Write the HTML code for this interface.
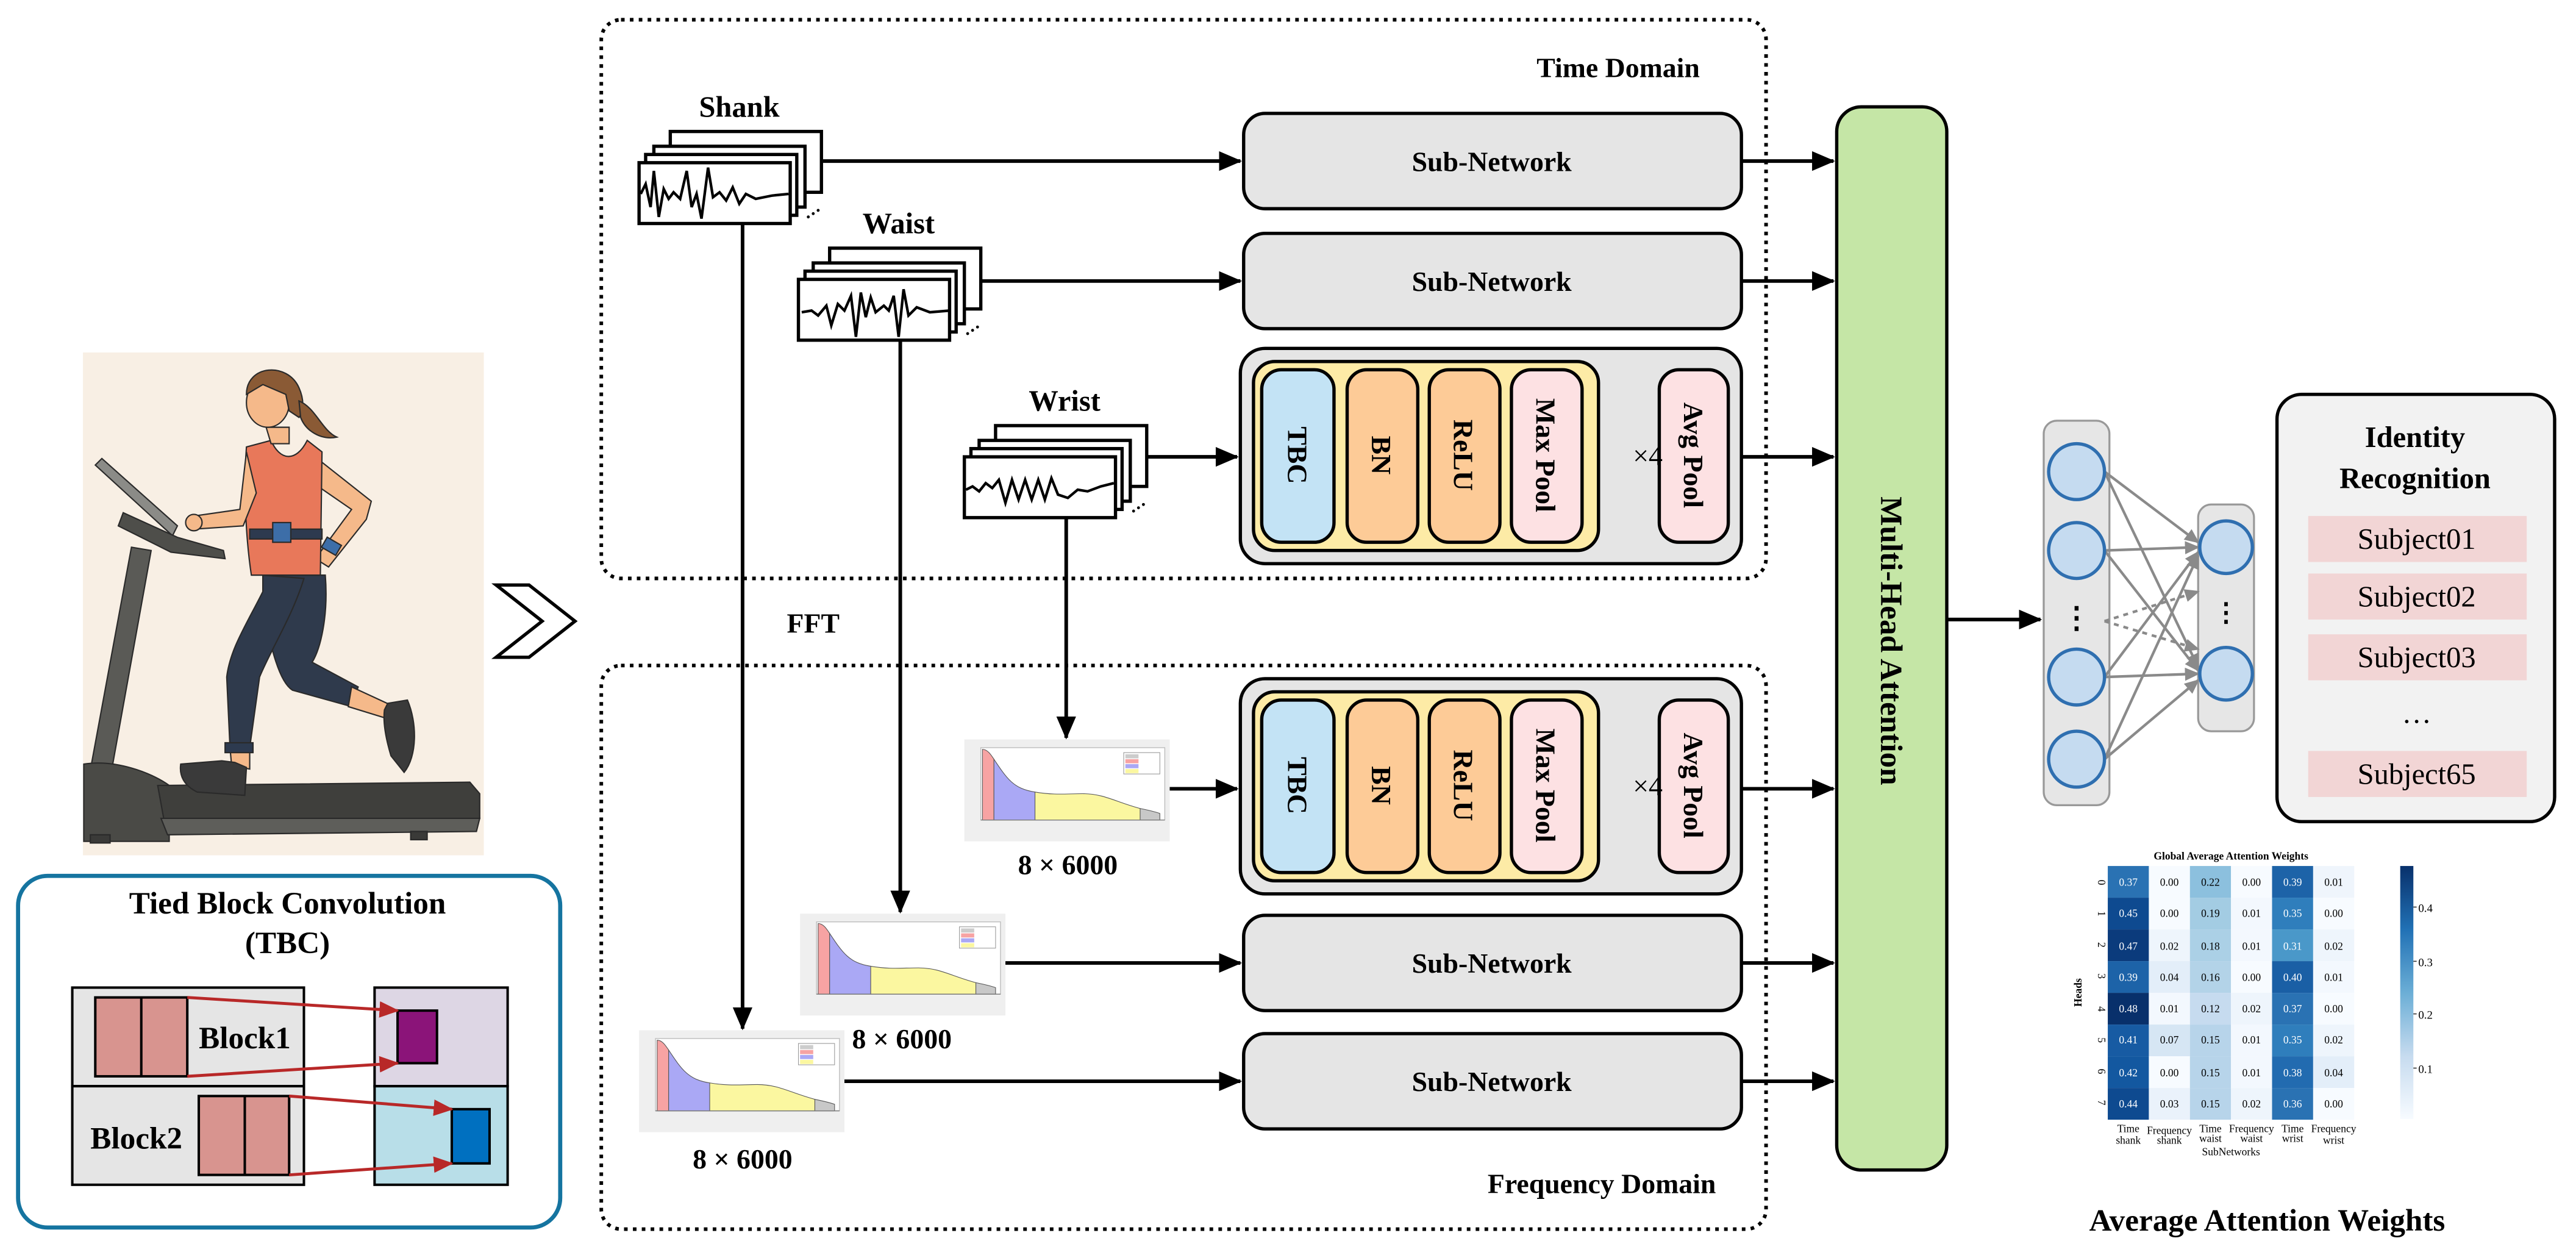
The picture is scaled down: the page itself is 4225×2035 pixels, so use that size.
<!DOCTYPE html>
<html><head><meta charset="utf-8"><style>
html,body{margin:0;padding:0;background:#fff;}
svg{display:block;}
text{font-family:"Liberation Serif",serif;}
.b{font-weight:bold;}
</style></head><body>
<svg width="4225" height="2035" viewBox="0 0 1568 755.2" xmlns="http://www.w3.org/2000/svg">
<defs>
<marker id="ah" markerUnits="userSpaceOnUse" markerWidth="14" markerHeight="12" refX="13" refY="6" orient="auto"><path d="M0,0 L14,6 L0,12 z" fill="#000"/></marker>
<marker id="ar" markerUnits="userSpaceOnUse" markerWidth="12" markerHeight="10" refX="11" refY="5" orient="auto"><path d="M0,0 L12,5 L0,10 z" fill="#b82828"/></marker>
<marker id="ag" markerUnits="userSpaceOnUse" markerWidth="9" markerHeight="8" refX="8" refY="4" orient="auto"><path d="M0,0 L9,4 L0,8 z" fill="#8a8a8a"/></marker>
<linearGradient id="cb" x1="0" y1="1" x2="0" y2="0"><stop offset="0" stop-color="#f7fbff"/><stop offset="0.25" stop-color="#c6dbef"/><stop offset="0.5" stop-color="#6baed6"/><stop offset="0.75" stop-color="#2171b5"/><stop offset="1" stop-color="#08306b"/></linearGradient>
<g id="spec">
 <rect x="0" y="0" width="125" height="62" fill="#efefef"/>
 <rect x="10" y="5" width="112" height="44" fill="#fff" stroke="#bbb" stroke-width="0.5"/>
 <path d="M11,49 L11,6 C14,6 16,9 18,12 L18,49 z" fill="#f7a3a3" stroke="#555" stroke-width="0.4"/>
 <path d="M18,49 L18,12 C26,24 30,30 43,32 L43,49 z" fill="#aaa8f5" stroke="#555" stroke-width="0.4"/>
 <path d="M43,49 L43,32 C55,34 62,33 72,33 C85,33 92,38 107,42 L107,49 z" fill="#fbf7a0" stroke="#555" stroke-width="0.4"/>
 <path d="M107,49 L107,42 C112,43 116,44 119,45 L119,49 z" fill="#c8c8c8" stroke="#555" stroke-width="0.4"/>
 <rect x="97" y="8" width="22" height="13" fill="#fff" stroke="#999" stroke-width="0.4"/>
 <rect x="98" y="9" width="8" height="2.5" fill="#ccc"/><rect x="98" y="12" width="8" height="2.5" fill="#f7a3a3"/><rect x="98" y="15" width="8" height="2.5" fill="#aaa8f5"/><rect x="98" y="18" width="8" height="2.5" fill="#fbf7a0"/>
 <path d="M10,49 L122,49" stroke="#777" stroke-width="0.5"/>
</g>
<g id="stk">
 <rect x="19" y="-19" width="92" height="37" fill="#fff" stroke="#000" stroke-width="2"/>
 <rect x="9" y="-10" width="92" height="37" fill="#fff" stroke="#000" stroke-width="2"/>
 <rect x="4" y="-5" width="92" height="37" fill="#fff" stroke="#000" stroke-width="2"/>
 <rect x="0" y="0" width="92" height="37" fill="#fff" stroke="#000" stroke-width="2"/>
 <circle cx="103" cy="33" r="0.9"/><circle cx="106" cy="31" r="0.9"/><circle cx="109" cy="29" r="0.9"/>
</g>
</defs>

<!-- runner illustration -->
<rect x="50.5" y="214.5" width="244" height="306" fill="#f8efe4"/>
<g stroke="#2a2a2a" stroke-width="0.8">
 <path d="M58,283 L62,279 L108,320 L105,326 Z" fill="#8b8b87"/>
 <path d="M75,312 L108,327 L136,335 L137,340 L104,336 L72,320 Z" fill="#4e4e4a"/>
 <path d="M80,333 L92,335 L67,474 L54,474 Z" fill="#5a5a56"/>
 <path d="M51,465 C70,462 92,470 103,478 L103,512 L51,512 Z" fill="#4a4a46"/>
 <path d="M96,478 L286,476 L292,483 L292,498 L100,500 Z" fill="#3f3f3c"/>
 <path d="M98,498 L292,498 L290,506 L102,508 Z" fill="#5e5e5a"/>
 <rect x="55" y="508" width="12" height="5" fill="#3a3a38"/><rect x="250" y="506" width="10" height="5" fill="#3a3a38"/>
 <path d="M160,350 L198,350 C200,375 195,395 190,403 L218,418 L214,430 L178,420 C170,415 165,395 160,370 Z" fill="#2f3a4c"/>
 <path d="M214,418 L240,430 L238,438 L212,430 Z" fill="#f5b98a"/>
 <path d="M236,428 L248,426 C254,440 254,460 246,470 L238,460 C235,450 233,440 234,432 Z" fill="#3a3a3a"/>
 <path d="M160,350 L185,352 C178,375 165,395 158,412 L152,455 L140,455 L138,412 C140,395 150,380 160,360 Z" fill="#2f3a4c"/>
 <path d="M140,455 L152,455 L152,468 L141,466 Z" fill="#f5b98a"/>
 <rect x="137" y="452" width="17" height="6" fill="#2d3a4f"/>
 <path d="M110,465 L135,463 L143,464 L150,467 L149,484 L120,482 C112,478 109,472 110,465 Z" fill="#3a3a3a"/>
 <path d="M188,275 L226,305 L223,316 L200,345 L192,340 L214,310 L185,290 Z" fill="#f5b98a"/>
 <rect x="197" y="329" width="10" height="7" fill="#3d6ea8" transform="rotate(30 202 332)"/>
 <path d="M150,272 L165,268 C170,280 180,282 187,268 L196,275 L195,350 L153,350 C150,330 148,300 150,272 Z" fill="#e8785a"/>
 <rect x="152" y="322" width="44" height="6" fill="#2d3a4f"/>
 <rect x="166" y="318" width="11" height="12" fill="#3d6ea8"/>
 <path d="M150,275 L146,310 L118,314 L118,322 L148,320 L156,300 Z" fill="#f5b98a"/>
 <circle cx="118" cy="318" r="5" fill="#f5b98a"/>
 <path d="M162,260 L176,260 L176,270 L165,270 Z" fill="#f5b98a"/>
 <ellipse cx="163" cy="245" rx="13" ry="15" fill="#f5b98a"/>
 <path d="M150,240 C150,222 175,220 182,236 C186,245 184,252 182,254 L176,250 L174,240 L160,234 Z" fill="#8a5a35"/>
 <path d="M182,244 C192,248 196,262 205,266 C195,268 186,262 183,254 Z" fill="#8a5a35"/>
</g>

<!-- TBC box -->
<rect x="11" y="533" width="330" height="214" rx="18" fill="#fff" stroke="#1574a0" stroke-width="2.5"/>
<text x="175" y="556" text-anchor="middle" class="b" font-size="19">Tied Block Convolution</text>
<text x="175" y="580" text-anchor="middle" class="b" font-size="19">(TBC)</text>
<rect x="44" y="601" width="141" height="60" fill="#e5e5e5" stroke="#000" stroke-width="1.5"/>
<rect x="44" y="661" width="141" height="60" fill="#e5e5e5" stroke="#000" stroke-width="1.5"/>
<rect x="228" y="601" width="81" height="60" fill="#ddd6e4" stroke="#000" stroke-width="1.5"/>
<rect x="228" y="661" width="81" height="60" fill="#b8dee8" stroke="#000" stroke-width="1.5"/>
<rect x="58" y="607" width="56" height="48" fill="#d8948f" stroke="#000" stroke-width="1.5"/><line x1="86" y1="607" x2="86" y2="655" stroke="#000" stroke-width="1.5"/>
<rect x="121" y="667" width="55" height="48" fill="#d8948f" stroke="#000" stroke-width="1.5"/><line x1="149" y1="667" x2="149" y2="715" stroke="#000" stroke-width="1.5"/>
<rect x="242" y="615" width="24" height="32" fill="#8b1479" stroke="#000" stroke-width="1.5"/>
<rect x="275" y="675" width="23" height="33" fill="#0070c0" stroke="#000" stroke-width="1.5"/>
<text x="149" y="638" text-anchor="middle" class="b" font-size="19">Block1</text>
<text x="83" y="699" text-anchor="middle" class="b" font-size="19">Block2</text>
<g stroke="#b82828" stroke-width="1.8" marker-end="url(#ar)">
<line x1="114" y1="607" x2="242" y2="615"/><line x1="114" y1="655" x2="242" y2="647"/>
<line x1="176" y1="667" x2="275" y2="675"/><line x1="176" y1="715" x2="275" y2="708"/>
</g>

<path d="M302,356 L322,356 L350,378 L322,400 L302,400 L330,378 Z" fill="#fff" stroke="#000" stroke-width="2"/>

<rect x="366" y="12" width="709" height="340" rx="12" fill="none" stroke="#000" stroke-width="2.2" stroke-dasharray="2.2 3.2"/>
<rect x="366" y="405" width="709" height="343" rx="12" fill="none" stroke="#000" stroke-width="2.2" stroke-dasharray="2.2 3.2"/>
<text x="985" y="47" text-anchor="middle" class="b" font-size="17">Time Domain</text>
<text x="495" y="385" text-anchor="middle" class="b" font-size="17">FFT</text>
<text x="975" y="726" text-anchor="middle" class="b" font-size="17">Frequency Domain</text>

<g stroke="#000" stroke-width="2.2" marker-end="url(#ah)" fill="none">
<line x1="452" y1="136" x2="452" y2="626"/>
<line x1="548" y1="207" x2="548" y2="555"/>
<line x1="649" y1="315" x2="649" y2="449"/>
</g>

<text x="450" y="71" text-anchor="middle" class="b" font-size="18">Shank</text>
<use href="#stk" x="389" y="99"/>
<path d="M390,118 L393,112 L396,126 L398,104 L401,132 L404,115 L407,121 L410,117 L414,121 L418,104 L421,126 L424,118 L427,133 L431,102 L434,120 L438,117 L442,122 L446,114 L450,124 L454,118 L460,121 L470,119 L480,118" fill="none" stroke="#000" stroke-width="1.6"/>
<text x="547" y="142" text-anchor="middle" class="b" font-size="18">Waist</text>
<use href="#stk" x="486" y="170"/>
<path d="M488,190 L494,189 L498,192 L503,186 L506,198 L510,185 L514,189 L518,180 L521,205 L524,178 L527,193 L530,181 L533,190 L538,186 L541,189 L544,180 L547,205 L550,176 L553,192 L558,187 L566,190 L578,189" fill="none" stroke="#000" stroke-width="1.6"/>
<text x="648" y="250" text-anchor="middle" class="b" font-size="18">Wrist</text>
<use href="#stk" x="587" y="278"/>
<path d="M588,298 L592,296 L596,299 L600,294 L604,297 L608,292 L612,306 L616,292 L620,304 L624,292 L628,304 L632,292 L636,304 L640,291 L644,301 L650,303 L656,298 L662,299 L670,296 L678,294" fill="none" stroke="#000" stroke-width="1.6"/>

<use href="#spec" x="587" y="450"/>
<use href="#spec" x="487" y="556"/>
<use href="#spec" x="389" y="627"/>
<text x="650" y="532" text-anchor="middle" class="b" font-size="17">8 × 6000</text>
<text x="549" y="638" text-anchor="middle" class="b" font-size="17">8 × 6000</text>
<text x="452" y="711" text-anchor="middle" class="b" font-size="17">8 × 6000</text>

<g stroke="#000" stroke-width="2.2" marker-end="url(#ah)">
<line x1="501" y1="98" x2="755" y2="98"/>
<line x1="597" y1="171" x2="755" y2="171"/>
<line x1="698" y1="278" x2="753" y2="278"/>
<line x1="712" y1="480" x2="753" y2="480"/>
<line x1="612" y1="586" x2="755" y2="586"/>
<line x1="514" y1="658" x2="755" y2="658"/>
<line x1="1060" y1="98" x2="1116" y2="98"/>
<line x1="1060" y1="171" x2="1116" y2="171"/>
<line x1="1060" y1="278" x2="1116" y2="278"/>
<line x1="1060" y1="480" x2="1116" y2="480"/>
<line x1="1060" y1="586" x2="1116" y2="586"/>
<line x1="1060" y1="658" x2="1116" y2="658"/>
<line x1="1185" y1="377" x2="1242" y2="377"/>
</g>

<g fill="#e5e5e5" stroke="#000" stroke-width="2">
<rect x="757" y="69" width="303" height="58" rx="13"/>
<rect x="757" y="142" width="303" height="58" rx="13"/>
<rect x="757" y="557" width="303" height="58" rx="13"/>
<rect x="757" y="629" width="303" height="58" rx="13"/>
</g>
<g font-size="17" text-anchor="middle">
<text x="908" y="104" class="b">Sub-Network</text>
<text x="908" y="177" class="b">Sub-Network</text>
<text x="908" y="592" class="b">Sub-Network</text>
<text x="908" y="664" class="b">Sub-Network</text>
</g>

<g>
<rect x="755" y="212" width="305" height="131" rx="15" fill="#e5e5e5" stroke="#000" stroke-width="2"/>
<rect x="763" y="220" width="210" height="115" rx="13" fill="#fdeba6" stroke="#000" stroke-width="2"/>
<rect x="768" y="225" width="44" height="105" rx="12" fill="#c3e3f5" stroke="#000" stroke-width="2"/>
<rect x="820" y="225" width="43" height="105" rx="12" fill="#fdcb97" stroke="#000" stroke-width="2"/>
<rect x="870" y="225" width="43" height="105" rx="12" fill="#fdcb97" stroke="#000" stroke-width="2"/>
<rect x="920" y="225" width="43" height="105" rx="12" fill="#fde1e3" stroke="#000" stroke-width="2"/>
<rect x="1010" y="225" width="42" height="105" rx="12" fill="#fde1e3" stroke="#000" stroke-width="2"/>
<text x="1003" y="283" text-anchor="middle" font-size="17">×4</text>
<text transform="translate(784 277) rotate(90)" text-anchor="middle" class="b" font-size="17">TBC</text>
<text transform="translate(835 277) rotate(90)" text-anchor="middle" class="b" font-size="17">BN</text>
<text transform="translate(885 277) rotate(90)" text-anchor="middle" class="b" font-size="17">ReLU</text>
<text transform="translate(935 277) rotate(90)" text-anchor="middle" class="b" font-size="17">Max Pool</text>
<text transform="translate(1025 277) rotate(90)" text-anchor="middle" class="b" font-size="17">Avg Pool</text>
</g>
<g transform="translate(0 201)">
<rect x="755" y="212" width="305" height="131" rx="15" fill="#e5e5e5" stroke="#000" stroke-width="2"/>
<rect x="763" y="220" width="210" height="115" rx="13" fill="#fdeba6" stroke="#000" stroke-width="2"/>
<rect x="768" y="225" width="44" height="105" rx="12" fill="#c3e3f5" stroke="#000" stroke-width="2"/>
<rect x="820" y="225" width="43" height="105" rx="12" fill="#fdcb97" stroke="#000" stroke-width="2"/>
<rect x="870" y="225" width="43" height="105" rx="12" fill="#fdcb97" stroke="#000" stroke-width="2"/>
<rect x="920" y="225" width="43" height="105" rx="12" fill="#fde1e3" stroke="#000" stroke-width="2"/>
<rect x="1010" y="225" width="42" height="105" rx="12" fill="#fde1e3" stroke="#000" stroke-width="2"/>
<text x="1003" y="283" text-anchor="middle" font-size="17">×4</text>
<text transform="translate(784 277) rotate(90)" text-anchor="middle" class="b" font-size="17">TBC</text>
<text transform="translate(835 277) rotate(90)" text-anchor="middle" class="b" font-size="17">BN</text>
<text transform="translate(885 277) rotate(90)" text-anchor="middle" class="b" font-size="17">ReLU</text>
<text transform="translate(935 277) rotate(90)" text-anchor="middle" class="b" font-size="17">Max Pool</text>
<text transform="translate(1025 277) rotate(90)" text-anchor="middle" class="b" font-size="17">Avg Pool</text>
</g>

<rect x="1118" y="65" width="67" height="647" rx="15" fill="#c5e6a6" stroke="#000" stroke-width="2"/>
<text transform="translate(1145 390) rotate(90)" text-anchor="middle" class="b" font-size="19">Multi-Head Attention</text>

<rect x="1244" y="256" width="40" height="234" rx="8" fill="#e6e6e6" stroke="#999" stroke-width="1.2"/>
<rect x="1338" y="307" width="34" height="138" rx="8" fill="#e6e6e6" stroke="#999" stroke-width="1.2"/>
<g stroke="#8a8a8a" stroke-width="1.6" marker-end="url(#ag)">
<line x1="1281" y1="287" x2="1338" y2="330"/><line x1="1281" y1="287" x2="1338" y2="406"/>
<line x1="1281" y1="335" x2="1338" y2="333"/><line x1="1281" y1="335" x2="1338" y2="408"/>
<line x1="1281" y1="412" x2="1338" y2="336"/><line x1="1281" y1="412" x2="1338" y2="410"/>
<line x1="1281" y1="462" x2="1338" y2="338"/><line x1="1281" y1="462" x2="1338" y2="414"/>
<line x1="1281" y1="378" x2="1338" y2="360" stroke-dasharray="3 3"/><line x1="1281" y1="378" x2="1338" y2="395" stroke-dasharray="3 3"/>
</g>
<g fill="#c5dbf0" stroke="#2f6fb0" stroke-width="2">
<circle cx="1264" cy="287" r="17"/><circle cx="1264" cy="335" r="17"/><circle cx="1264" cy="412" r="17"/><circle cx="1264" cy="462" r="17"/>
<circle cx="1355" cy="333" r="16"/><circle cx="1355" cy="410" r="16"/>
</g>
<text x="1264" y="382" text-anchor="middle" class="b" font-size="18">⋮</text>
<text x="1355" y="378" text-anchor="middle" class="b" font-size="16">⋮</text>

<rect x="1386" y="240" width="169" height="260" rx="15" fill="#f2f2f2" stroke="#000" stroke-width="2"/>
<text x="1470" y="272" text-anchor="middle" class="b" font-size="18">Identity</text>
<text x="1470" y="297" text-anchor="middle" class="b" font-size="18">Recognition</text>
<g fill="#f2d5d5">
<rect x="1405" y="314" width="133" height="28"/><rect x="1405" y="349" width="133" height="28"/><rect x="1405" y="386" width="133" height="28"/><rect x="1405" y="457" width="133" height="28"/>
</g>
<g font-size="18" text-anchor="middle">
<text x="1471" y="334">Subject01</text><text x="1471" y="369">Subject02</text><text x="1471" y="406">Subject03</text>
<text x="1471" y="440">…</text><text x="1471" y="477">Subject65</text>
</g>

<text x="1358" y="523" text-anchor="middle" font-size="6.5" class="b">Global Average Attention Weights</text>
<g font-size="6.5" text-anchor="middle">
<rect x="1283" y="527" width="25" height="19.3" fill="#2a72b3"/><rect x="1308" y="527" width="25" height="19.3" fill="#f7fbff"/><rect x="1333" y="527" width="25" height="19.3" fill="#8cc0de"/><rect x="1358" y="527" width="25" height="19.3" fill="#f7fbff"/><rect x="1383" y="527" width="25" height="19.3" fill="#1d63a8"/><rect x="1408" y="527" width="25" height="19.3" fill="#eff5fc"/>
<rect x="1283" y="546.3" width="25" height="19.3" fill="#0e4a90"/><rect x="1308" y="546.3" width="25" height="19.3" fill="#f7fbff"/><rect x="1333" y="546.3" width="25" height="19.3" fill="#a3cce3"/><rect x="1358" y="546.3" width="25" height="19.3" fill="#f3f8fe"/><rect x="1383" y="546.3" width="25" height="19.3" fill="#2f7ebc"/><rect x="1408" y="546.3" width="25" height="19.3" fill="#f7fbff"/>
<rect x="1283" y="565.6" width="25" height="19.3" fill="#0b3b7c"/><rect x="1308" y="565.6" width="25" height="19.3" fill="#eef5fc"/><rect x="1333" y="565.6" width="25" height="19.3" fill="#abd0e6"/><rect x="1358" y="565.6" width="25" height="19.3" fill="#f3f8fe"/><rect x="1383" y="565.6" width="25" height="19.3" fill="#4a98c9"/><rect x="1408" y="565.6" width="25" height="19.3" fill="#eef5fc"/>
<rect x="1283" y="584.9" width="25" height="19.3" fill="#1d63a8"/><rect x="1308" y="584.9" width="25" height="19.3" fill="#e3eef9"/><rect x="1333" y="584.9" width="25" height="19.3" fill="#b3d3e8"/><rect x="1358" y="584.9" width="25" height="19.3" fill="#f7fbff"/><rect x="1383" y="584.9" width="25" height="19.3" fill="#1a5fa5"/><rect x="1408" y="584.9" width="25" height="19.3" fill="#f3f8fe"/>
<rect x="1283" y="604.2" width="25" height="19.3" fill="#08306b"/><rect x="1308" y="604.2" width="25" height="19.3" fill="#f3f8fe"/><rect x="1333" y="604.2" width="25" height="19.3" fill="#c6dbef"/><rect x="1358" y="604.2" width="25" height="19.3" fill="#eef5fc"/><rect x="1383" y="604.2" width="25" height="19.3" fill="#2a72b3"/><rect x="1408" y="604.2" width="25" height="19.3" fill="#f7fbff"/>
<rect x="1283" y="623.5" width="25" height="19.3" fill="#175ba3"/><rect x="1308" y="623.5" width="25" height="19.3" fill="#d6e6f4"/><rect x="1333" y="623.5" width="25" height="19.3" fill="#b7d4ea"/><rect x="1358" y="623.5" width="25" height="19.3" fill="#f3f8fe"/><rect x="1383" y="623.5" width="25" height="19.3" fill="#2f7ebc"/><rect x="1408" y="623.5" width="25" height="19.3" fill="#eef5fc"/>
<rect x="1283" y="642.8" width="25" height="19.3" fill="#1358a0"/><rect x="1308" y="642.8" width="25" height="19.3" fill="#f7fbff"/><rect x="1333" y="642.8" width="25" height="19.3" fill="#b7d4ea"/><rect x="1358" y="642.8" width="25" height="19.3" fill="#f3f8fe"/><rect x="1383" y="642.8" width="25" height="19.3" fill="#226bb0"/><rect x="1408" y="642.8" width="25" height="19.3" fill="#e3eef9"/>
<rect x="1283" y="662.1" width="25" height="19.3" fill="#0e4a90"/><rect x="1308" y="662.1" width="25" height="19.3" fill="#eaf2fb"/><rect x="1333" y="662.1" width="25" height="19.3" fill="#b7d4ea"/><rect x="1358" y="662.1" width="25" height="19.3" fill="#eef5fc"/><rect x="1383" y="662.1" width="25" height="19.3" fill="#2a72b3"/><rect x="1408" y="662.1" width="25" height="19.3" fill="#f7fbff"/>
<g fill="#fff">
<text x="1295.5" y="539">0.37</text><text x="1295.5" y="558">0.45</text><text x="1295.5" y="578">0.47</text><text x="1295.5" y="597">0.39</text><text x="1295.5" y="616">0.48</text><text x="1295.5" y="635">0.41</text><text x="1295.5" y="655">0.42</text><text x="1295.5" y="674">0.44</text>
<text x="1395.5" y="539">0.39</text><text x="1395.5" y="558">0.35</text><text x="1395.5" y="578">0.31</text><text x="1395.5" y="597">0.40</text><text x="1395.5" y="616">0.37</text><text x="1395.5" y="635">0.35</text><text x="1395.5" y="655">0.38</text><text x="1395.5" y="674">0.36</text>
</g>
<text x="1320.5" y="539">0.00</text><text x="1320.5" y="558">0.00</text><text x="1320.5" y="578">0.02</text><text x="1320.5" y="597">0.04</text><text x="1320.5" y="616">0.01</text><text x="1320.5" y="635">0.07</text><text x="1320.5" y="655">0.00</text><text x="1320.5" y="674">0.03</text>
<text x="1345.5" y="539">0.22</text><text x="1345.5" y="558">0.19</text><text x="1345.5" y="578">0.18</text><text x="1345.5" y="597">0.16</text><text x="1345.5" y="616">0.12</text><text x="1345.5" y="635">0.15</text><text x="1345.5" y="655">0.15</text><text x="1345.5" y="674">0.15</text>
<text x="1370.5" y="539">0.00</text><text x="1370.5" y="558">0.01</text><text x="1370.5" y="578">0.01</text><text x="1370.5" y="597">0.00</text><text x="1370.5" y="616">0.02</text><text x="1370.5" y="635">0.01</text><text x="1370.5" y="655">0.01</text><text x="1370.5" y="674">0.02</text>
<text x="1420.5" y="539">0.01</text><text x="1420.5" y="558">0.00</text><text x="1420.5" y="578">0.02</text><text x="1420.5" y="597">0.01</text><text x="1420.5" y="616">0.00</text><text x="1420.5" y="635">0.02</text><text x="1420.5" y="655">0.04</text><text x="1420.5" y="674">0.00</text>
</g>
<g font-size="6.5" text-anchor="middle">
<text transform="translate(1277 537) rotate(90)">0</text><text transform="translate(1277 556) rotate(90)">1</text><text transform="translate(1277 575) rotate(90)">2</text><text transform="translate(1277 594) rotate(90)">3</text><text transform="translate(1277 614) rotate(90)">4</text><text transform="translate(1277 633) rotate(90)">5</text><text transform="translate(1277 652) rotate(90)">6</text><text transform="translate(1277 671) rotate(90)">7</text>
<text transform="translate(1267 604) rotate(-90)" class="b">Heads</text>
<text x="1295.5" y="689">Time</text><text x="1295.5" y="696">shank</text>
<text x="1320.5" y="690">Frequency</text><text x="1320.5" y="696">shank</text>
<text x="1345.5" y="689">Time</text><text x="1345.5" y="695">waist</text>
<text x="1370.5" y="689">Frequency</text><text x="1370.5" y="695">waist</text>
<text x="1395.5" y="689">Time</text><text x="1395.5" y="695">wrist</text>
<text x="1420.5" y="689">Frequency</text><text x="1420.5" y="696">wrist</text>
<text x="1358" y="703">SubNetworks</text>
</g>
<rect x="1461" y="527" width="8" height="154" fill="url(#cb)"/>
<g font-size="7">
<text x="1472" y="555">0.4</text><text x="1472" y="588">0.3</text><text x="1472" y="620">0.2</text><text x="1472" y="653">0.1</text>
</g>
<g stroke="#333" stroke-width="0.6"><line x1="1469" y1="552" x2="1471" y2="552"/><line x1="1469" y1="585" x2="1471" y2="585"/><line x1="1469" y1="617" x2="1471" y2="617"/><line x1="1469" y1="650" x2="1471" y2="650"/></g>
<text x="1380" y="749" text-anchor="middle" class="b" font-size="19">Average Attention Weights</text>
</svg>
</body></html>
